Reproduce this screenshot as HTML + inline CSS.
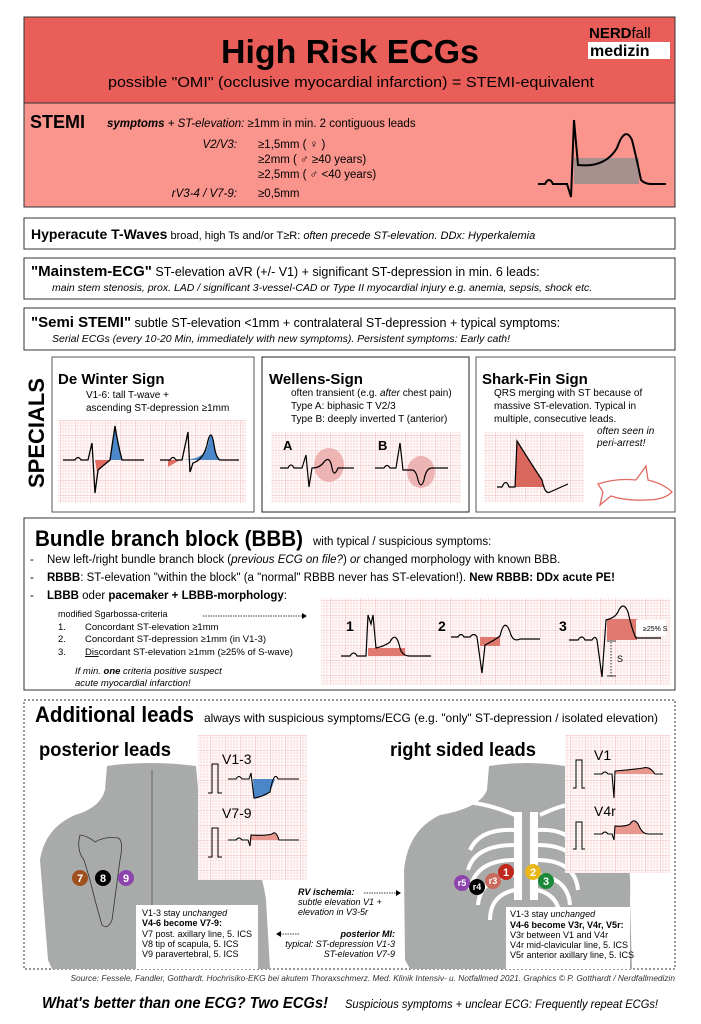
<!DOCTYPE html>
<html><head><meta charset="utf-8"><style>
html,body{margin:0;padding:0;background:#fff;}
svg{display:block;font-family:"Liberation Sans",Arial,sans-serif;}
</style></head><body>
<svg width="701" height="1024" viewBox="0 0 701 1024" xmlns="http://www.w3.org/2000/svg">
<defs>
<pattern id="g" width="15" height="15" patternUnits="userSpaceOnUse">
<rect width="15" height="15" fill="#fff"/>
<path d="M3 0V15M6 0V15M9 0V15M12 0V15M0 3H15M0 6H15M0 9H15M0 12H15" stroke="#f7cccc" stroke-width="0.5"/>
<path d="M0 0V15M0 0H15" stroke="#f0a0a0" stroke-width="0.8"/>
</pattern>
</defs>

<!-- Header -->
<rect x="24" y="17" width="651" height="86" fill="#e95e58" stroke="#333" stroke-width="1"/>
<text x="350" y="63" font-size="33" font-weight="bold" text-anchor="middle" textLength="258" lengthAdjust="spacingAndGlyphs">High Risk ECGs</text>
<text x="108" y="87" font-size="15" textLength="486" lengthAdjust="spacingAndGlyphs">possible "OMI" (occlusive myocardial infarction) = STEMI-equivalent</text>
<text x="589" y="38" font-size="15"><tspan font-weight="bold">NERD</tspan>fall</text>
<rect x="588" y="42" width="82" height="17" fill="#fff"/>
<text x="590" y="56" font-size="16" font-weight="bold">medizin</text>

<!-- STEMI -->
<rect x="24" y="103" width="651" height="104" fill="#fa958d" stroke="#333" stroke-width="1"/>
<text x="30" y="128" font-size="18" font-weight="bold">STEMI</text>
<text x="107" y="127" font-size="11.5"><tspan font-weight="bold" font-style="italic">symptoms</tspan><tspan font-style="italic"> + ST-elevation:</tspan> ≥1mm in min. 2 contiguous leads</text>
<text x="237" y="148" font-size="11.5" font-style="italic" text-anchor="end">V2/V3:</text>
<text x="258" y="148" font-size="11.5">≥1,5mm ( ♀ )</text>
<text x="258" y="163" font-size="11.5">≥2mm    ( ♂ ≥40 years)</text>
<text x="258" y="178" font-size="11.5">≥2,5mm ( ♂ &lt;40 years)</text>
<text x="237" y="197" font-size="11.5" font-style="italic" text-anchor="end">rV3-4 / V7-9:</text>
<text x="258" y="197" font-size="11.5">≥0,5mm</text>
<rect x="574" y="158" width="65" height="26" fill="#a7908d"/>
<path d="M538 184 H545 Q549 176 553 184 H567 L571 197 L574 120 L578 165 Q605 168 617 148 Q625 125 632 140 Q637 160 641 180 Q645 184 651 184 H666" fill="none" stroke="#000" stroke-width="2"/>

<!-- Hyperacute -->
<rect x="24" y="218" width="651" height="31" fill="#fff" stroke="#333"/>
<text x="31" y="239" font-size="11"><tspan font-size="14" font-weight="bold">Hyperacute T-Waves</tspan> broad, high Ts and/or T≥R: <tspan font-style="italic">often precede ST-elevation. DDx: Hyperkalemia</tspan></text>

<!-- Mainstem -->
<rect x="24" y="258" width="651" height="41" fill="#fff" stroke="#333"/>
<text x="31" y="276" font-size="12.5"><tspan font-size="15" font-weight="bold">"Mainstem-ECG"</tspan>  ST-elevation aVR (+/- V1) + significant ST-depression in min. 6 leads:</text>
<text x="52" y="291" font-size="10.5" font-style="italic">main stem stenosis, prox. LAD / significant 3-vessel-CAD or Type II myocardial injury e.g. anemia, sepsis, shock etc.</text>

<!-- Semi STEMI -->
<rect x="24" y="308" width="651" height="42" fill="#fff" stroke="#333"/>
<text x="31" y="327" font-size="12.5"><tspan font-size="15" font-weight="bold">"Semi STEMI"</tspan>  subtle ST-elevation &lt;1mm + contralateral ST-depression + typical symptoms:</text>
<text x="52" y="342" font-size="10.5" font-style="italic">Serial ECGs (every 10-20 Min, immediately with new symptoms). Persistent symptoms: Early cath!</text>

<!-- Specials -->
<text transform="translate(44,433) rotate(-90)" font-size="22" font-weight="bold" text-anchor="middle">SPECIALS</text>
<rect x="52" y="357" width="202" height="155" fill="#fff" stroke="#555"/>
<rect x="262" y="357" width="207" height="155" fill="#fff" stroke="#222"/>
<rect x="476" y="357" width="199" height="155" fill="#fff" stroke="#555"/>

<text x="58" y="384" font-size="15" font-weight="bold">De Winter Sign</text>
<text x="86" y="398" font-size="10">V1-6: tall T-wave +</text>
<text x="86" y="411" font-size="10">ascending ST-depression ≥1mm</text>
<rect x="58" y="420" width="188" height="83" fill="url(#g)"/>
<path d="M95 460 L97 472 L110 460 Z" fill="#e06c62"/>
<path d="M110 460 Q113 440 115 426 Q117 440 122 460 Z" fill="#4a86c8"/>
<path d="M63 460 H75 Q78 455 81 460 H88 L92 443 L95 493 L98 470 Q104 465 110 460 Q113 440 115 426 Q117 440 122 460 H144" fill="none" stroke="#000" stroke-width="1.3"/>
<path d="M168 460 L168 467 L180 460 Z" fill="#e06c62"/>
<path d="M180 460 Q205 460 208 445 Q211 425 214 445 Q216 458 220 460 H200 Z" fill="#4a86c8"/>
<path d="M160 460 H170 Q173 455 176 460 H182 L188 432 L190 472 L193 463 Q203 460 207 445 Q211 425 214 445 Q216 458 220 460 H239" fill="none" stroke="#000" stroke-width="1.3"/>

<text x="269" y="384" font-size="15" font-weight="bold">Wellens-Sign</text>
<text x="291" y="396" font-size="10">often transient (e.g. <tspan font-style="italic">after</tspan> chest pain)</text>
<text x="291" y="409" font-size="10">Type A: biphasic T V2/3</text>
<text x="291" y="422" font-size="10">Type B: deeply inverted T (anterior)</text>
<rect x="271" y="432" width="190" height="71" fill="url(#g)"/>
<ellipse cx="329" cy="465" rx="15" ry="17" fill="#e8a0a0" opacity="0.75"/>
<ellipse cx="421" cy="472" rx="14" ry="16" fill="#e8a0a0" opacity="0.75"/>
<text x="283" y="450" font-size="13" font-weight="bold">A</text>
<text x="378" y="450" font-size="13" font-weight="bold">B</text>
<path d="M280 468 H288 Q291 462 294 468 H302 L306 455 L309 487 L312 468 Q320 468 324 462 Q330 455 332 468 Q334 478 338 468 H354" fill="none" stroke="#000" stroke-width="1.2"/>
<path d="M375 468 H384 Q387 463 390 468 H396 L400 443 L403 470 H412 Q416 470 418 480 Q421 490 424 480 Q426 468 432 468 H448" fill="none" stroke="#000" stroke-width="1.2"/>

<text x="482" y="384" font-size="15" font-weight="bold">Shark-Fin Sign</text>
<text x="494" y="396" font-size="10">QRS merging with ST because of</text>
<text x="494" y="409" font-size="10">massive ST-elevation. Typical in</text>
<text x="494" y="422" font-size="10">multiple, consecutive leads.</text>
<text x="597" y="434" font-size="10" font-style="italic">often seen in</text>
<text x="597" y="446" font-size="10" font-style="italic">peri-arrest!</text>
<rect x="484" y="432" width="100" height="70" fill="url(#g)"/>
<path d="M515 487 L517 441 L542 480 L545 487 Z" fill="#d9675c"/>
<path d="M497 487 H502 Q506 478 509 487 H515 L517 441 Q532 465 542 480 Q545 495 550 492 Q559 488 568 484" fill="none" stroke="#000" stroke-width="1.2"/>
<path d="M598 484 Q616 478 636 480 L646 466 L648 480 Q664 484 672 492 Q664 500 646 500 Q626 501 611 496 L600 505 L603 492 Z" fill="none" stroke="#e06c62" stroke-width="1.3"/>

<!-- BBB -->
<rect x="24" y="518" width="651" height="172" fill="#fff" stroke="#333"/>
<text x="35" y="546" font-size="22" font-weight="bold" textLength="268" lengthAdjust="spacingAndGlyphs">Bundle branch block (BBB)</text>
<text x="313" y="545" font-size="11.5">with typical / suspicious symptoms:</text>
<text x="30" y="563" font-size="11.5">-</text>
<text x="47" y="563" font-size="11.5">New left-/right bundle branch block (<tspan font-style="italic">previous ECG on file?</tspan>) <tspan font-style="italic">or</tspan> changed morphology with known BBB.</text>
<text x="30" y="581" font-size="11.5">-</text>
<text x="47" y="581" font-size="11.5"><tspan font-weight="bold">RBBB</tspan>: ST-elevation "within the block" (a "normal" RBBB never has ST-elevation!). <tspan font-weight="bold">New RBBB: DDx acute PE!</tspan></text>
<text x="30" y="599" font-size="11.5">-</text>
<text x="47" y="599" font-size="11.5"><tspan font-weight="bold">LBBB</tspan> oder <tspan font-weight="bold">pacemaker + LBBB-morphology</tspan>:</text>
<text x="58" y="617" font-size="9">modified Sgarbossa-criteria</text>
<path d="M203 616 H302" stroke="#000" stroke-width="0.8" stroke-dasharray="1.5,1"/>
<path d="M302 613 L307 616 L302 619 Z" fill="#000"/>
<text x="58" y="630" font-size="9.5">1.</text><text x="85" y="630" font-size="9.5">Concordant ST-elevation ≥1mm</text>
<text x="58" y="642" font-size="9.5">2.</text><text x="85" y="642" font-size="9.5">Concordant ST-depression ≥1mm (in V1-3)</text>
<text x="58" y="655" font-size="9.5">3.</text><text x="85" y="655" font-size="9.5"><tspan text-decoration="underline">Dis</tspan>cordant ST-elevation ≥1mm (≥25% of S-wave)</text>
<text x="75" y="674" font-size="9.5" font-style="italic">If min. <tspan font-weight="bold">one</tspan> criteria positive suspect</text>
<text x="75" y="686" font-size="9.5" font-style="italic">acute myocardial infarction!</text>
<rect x="321" y="598" width="349" height="87" fill="url(#g)"/>
<text x="346" y="631" font-size="14" font-weight="bold">1</text>
<text x="438" y="631" font-size="14" font-weight="bold">2</text>
<text x="559" y="631" font-size="14" font-weight="bold">3</text>
<rect x="368" y="648" width="37" height="8" fill="#e07a70"/>
<path d="M341 656 H350 Q354 650 357 656 H366 L368 615 L371 624 L373 615 L376 648 Q385 646 390 642 Q396 630 400 648 Q402 656 410 656 H431" fill="none" stroke="#000" stroke-width="1.2"/>
<rect x="480" y="637" width="20" height="9" fill="#e07a70"/>
<path d="M451 637 H458 Q461 632 464 637 H470 Q474 632 477 637 L482 673 L485 645 Q495 640 500 636 Q505 615 511 635 Q514 642 520 639 H540" fill="none" stroke="#000" stroke-width="1.2"/>
<rect x="607" y="619" width="30" height="21" fill="#e07a70"/>
<rect x="636" y="620" width="30" height="16" fill="#fff"/>
<text x="643" y="631" font-size="7">≥25% S</text>
<path d="M569 640 H578 Q582 634 585 640 H592 Q595 635 597 640 L602 677 L606 620 Q615 618 618 612 Q623 600 628 612 Q632 630 636 638 H661" fill="none" stroke="#000" stroke-width="1.2"/>
<path d="M611 642 V676" stroke="#000" stroke-width="0.8" stroke-dasharray="1.5,1.5"/>
<path d="M607 676 H616 M607 641 H616" stroke="#000" stroke-width="0.8"/>
<text x="617" y="662" font-size="9">S</text>

<!-- Additional leads -->
<rect x="24" y="700" width="651" height="269" fill="#fff" stroke="#333" stroke-dasharray="2,2"/>
<path d="M107 766 Q150 760 196 766 L200 810 Q230 830 250 850 Q262 870 266 900 L270 969 H255 L250 920 L245 969 H52 L48 960 L40 860 Q45 828 75 815 Q100 808 105 790 Z" fill="#a9aaaa"/>
<path d="M152 770 V905" stroke="#555" stroke-width="0.8"/>
<path d="M80 835 Q76 850 84 860 L90 880 Q96 905 102 925 Q108 930 112 920 L120 860 Q124 840 118 838 Q105 836 95 842 Q88 836 80 835 Z" fill="none" stroke="#333" stroke-width="0.8"/>
<path d="M489 766 Q527 760 565 766 L570 800 Q600 815 620 835 Q632 860 630 900 L632 969 H410 L405 960 L404 870 Q408 830 440 815 Q480 808 487 790 Z" fill="#a9aaaa"/>
<g stroke="#fff" fill="none" stroke-width="4">
<path d="M450 802 Q480 800 515 815 M600 802 Q570 800 540 815"/>
<path d="M518 812 V900 M534 812 V900" stroke-width="8"/>
<path d="M515 830 Q480 828 470 850 M515 845 Q475 845 468 870 M515 860 Q475 860 470 890 M515 875 Q480 878 478 905 M515 890 Q490 895 490 920"/>
<path d="M537 830 Q570 828 578 850 M537 845 Q575 845 580 870 M537 860 Q575 860 578 890 M537 875 Q568 878 570 905 M537 890 Q560 895 560 920"/>
</g>
<text x="35" y="722" font-size="22" font-weight="bold" textLength="159" lengthAdjust="spacingAndGlyphs">Additional leads</text>
<text x="204" y="722" font-size="12" textLength="454" lengthAdjust="spacingAndGlyphs">always with suspicious symptoms/ECG (e.g. "only" ST-depression / isolated elevation)</text>
<text x="39" y="756" font-size="19" font-weight="bold" textLength="132" lengthAdjust="spacingAndGlyphs">posterior leads</text>
<text x="390" y="756" font-size="19" font-weight="bold" textLength="146" lengthAdjust="spacingAndGlyphs">right sided leads</text>

<rect x="198" y="735" width="109" height="145" fill="url(#g)"/>
<text x="222" y="764" font-size="14">V1-3</text>
<path d="M208 793 H212 V764 H218 V793 H222" fill="none" stroke="#000" stroke-width="1"/>
<path d="M253 779 L254 799 Q262 797 270 792 L275 779 Z" fill="#4a86c8"/>
<path d="M228 779 H236 Q239 774 242 779 H249 L251 773 L254 798 Q262 797 270 792 Q274 770 278 779 H299" fill="none" stroke="#000" stroke-width="1.1"/>
<text x="222" y="818" font-size="14">V7-9</text>
<path d="M208 857 H212 V828 H218 V857 H222" fill="none" stroke="#000" stroke-width="1"/>
<path d="M251 840 V835 Q265 836 272 834 Q276 830 279 840 Z" fill="#e8978f"/>
<path d="M228 840 H236 Q239 836 242 840 H248 L250 846 L251 835 Q265 836 272 834 Q276 830 279 840 H299" fill="none" stroke="#000" stroke-width="1.1"/>

<rect x="565" y="735" width="105" height="138" fill="url(#g)"/>
<text x="594" y="760" font-size="14">V1</text>
<path d="M573 788 H576 V760 H582 V788 H585" fill="none" stroke="#000" stroke-width="1"/>
<path d="M615 774 V771 Q630 770 643 768 Q650 766 655 774 Z" fill="#e8978f"/>
<path d="M594 774 H602 Q605 770 608 774 H612 L614 798 L615 771 Q630 770 643 768 Q650 766 655 774 H663" fill="none" stroke="#000" stroke-width="1.1"/>
<text x="594" y="816" font-size="14">V4r</text>
<path d="M573 849 H576 V822 H582 V849 H585" fill="none" stroke="#000" stroke-width="1"/>
<path d="M615 834 V826 Q625 827 630 824 Q635 816 640 828 Q643 834 645 834 Z" fill="#e8978f"/>
<path d="M594 834 H602 Q605 830 608 834 H612 L614 840 L615 826 Q625 827 630 824 Q635 816 640 828 Q643 834 648 834 H663" fill="none" stroke="#000" stroke-width="1.1"/>

<g font-size="11" font-weight="bold" text-anchor="middle" fill="#fff">
<circle cx="80" cy="878" r="8" fill="#a0501e"/><text x="80" y="882">7</text>
<circle cx="103" cy="878" r="8" fill="#000"/><text x="103" y="882">8</text>
<circle cx="126" cy="878" r="8" fill="#8e44ad"/><text x="126" y="882">9</text>
<circle cx="506" cy="872" r="8" fill="#c0281e"/><text x="506" y="876">1</text>
<circle cx="533" cy="872" r="8" fill="#e8b71a"/><text x="533" y="876">2</text>
<circle cx="546" cy="881" r="8" fill="#1a8a3a"/><text x="546" y="885">3</text>
<circle cx="493" cy="881" r="8" fill="#c96a5c"/><text x="493" y="884" font-size="9">r3</text>
<circle cx="477" cy="887" r="8" fill="#000"/><text x="477" y="890" font-size="9">r4</text>
<circle cx="462" cy="883" r="8" fill="#8e44ad"/><text x="462" y="886" font-size="9">r5</text>
</g>

<rect x="136" y="905" width="122" height="64" fill="#fff"/>
<text x="142" y="916" font-size="9">V1-3 stay <tspan font-style="italic">unchanged</tspan></text>
<text x="142" y="926" font-size="9" font-weight="bold">V4-6 become V7-9:</text>
<text x="142" y="937" font-size="9">V7 post. axillary line, 5. ICS</text>
<text x="142" y="947" font-size="9">V8 tip of scapula, 5. ICS</text>
<text x="142" y="957" font-size="9">V9 paravertebral, 5. ICS</text>
<rect x="506" y="907" width="124" height="62" fill="#fff"/>
<text x="510" y="917" font-size="9">V1-3 stay <tspan font-style="italic">unchanged</tspan></text>
<text x="510" y="928" font-size="9" font-weight="bold">V4-6 become V3r, V4r, V5r:</text>
<text x="510" y="938" font-size="9">V3r between V1 and V4r</text>
<text x="510" y="948" font-size="9">V4r mid-clavicular line, 5. ICS</text>
<text x="510" y="958" font-size="9">V5r anterior axillary line, 5. ICS</text>

<text x="298" y="895" font-size="9" font-style="italic" font-weight="bold">RV ischemia:</text>
<path d="M364 893 H396" stroke="#000" stroke-width="0.8" stroke-dasharray="1.5,1"/>
<path d="M396 890 L401 893 L396 896 Z" fill="#000"/>
<text x="298" y="905" font-size="9" font-style="italic">subtle elevation V1 +</text>
<text x="298" y="915" font-size="9" font-style="italic">elevation in V3-5r</text>
<text x="395" y="937" font-size="9" font-style="italic" font-weight="bold" text-anchor="end">posterior MI:</text>
<path d="M299 934 H281" stroke="#000" stroke-width="0.8" stroke-dasharray="1.5,1"/>
<path d="M281 931 L276 934 L281 937 Z" fill="#000"/>
<text x="395" y="947" font-size="9" font-style="italic" text-anchor="end">typical: ST-depression V1-3</text>
<text x="395" y="957" font-size="9" font-style="italic" text-anchor="end">ST-elevation V7-9</text>

<text x="675" y="981" font-size="8.3" font-style="italic" fill="#333" text-anchor="end">Source: Fessele, Fandler, Gotthardt. Hochrisiko-EKG bei akutem Thoraxschmerz. Med. Klinik Intensiv- u. Notfallmed 2021. Graphics © P. Gotthardt / Nerdfallmedizin</text>
<text x="42" y="1008" font-size="16" font-weight="bold" font-style="italic" textLength="286" lengthAdjust="spacingAndGlyphs">What's better than one ECG? Two ECGs!</text>
<text x="345" y="1008" font-size="11.5" font-style="italic" textLength="313" lengthAdjust="spacingAndGlyphs">Suspicious symptoms + unclear ECG: Frequently repeat ECGs!</text>
</svg>
</body></html>
